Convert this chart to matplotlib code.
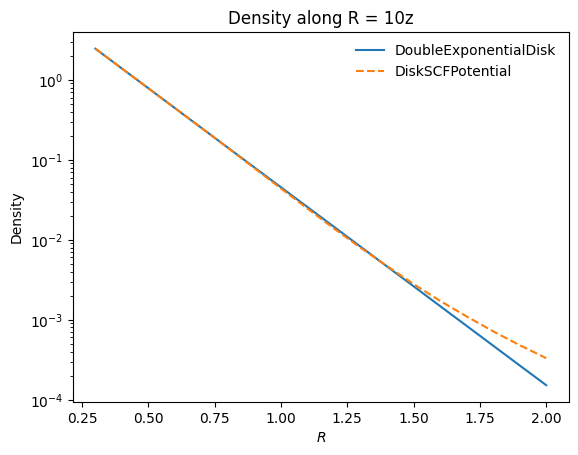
import matplotlib
matplotlib.use("Agg")
import matplotlib.pyplot as plt

# radius grid and densities
R = [0.3, 0.5, 0.75, 1.0, 1.1, 1.2, 1.3, 1.4, 1.5, 1.6, 1.7, 1.8, 1.9, 2.0]
dens_dexp = [2.45, 0.783, 0.188, 0.0453, 0.0256, 0.0145, 0.00819, 0.00463,
             0.00262, 0.00148, 0.000838, 0.000474, 0.000268, 0.000152]
dens_scf = [2.45, 0.783, 0.188, 0.0437, 0.0245, 0.0138, 0.00794, 0.00468,
            0.00279, 0.00172, 0.00110, 0.000716, 0.000481, 0.000331]


def main():
    fig = plt.figure(figsize=(5.78, 4.55), dpi=100)
    ax = fig.add_subplot(111)
    fig.subplots_adjust(left=0.126, right=0.984, top=0.930, bottom=0.1165)

    ax.semilogy(R, dens_dexp, label="DoubleExponentialDisk")
    ax.semilogy(R, dens_scf, "--", label="DiskSCFPotential")

    ax.set_title("Density along R = 10z")
    ax.set_xlabel("$R$")
    ax.set_ylabel("Density")
    ax.legend(frameon=False, loc="upper right")

    fig.savefig("out.png", dpi=100)
    plt.close(fig)


if __name__ == "__main__":
    main()
